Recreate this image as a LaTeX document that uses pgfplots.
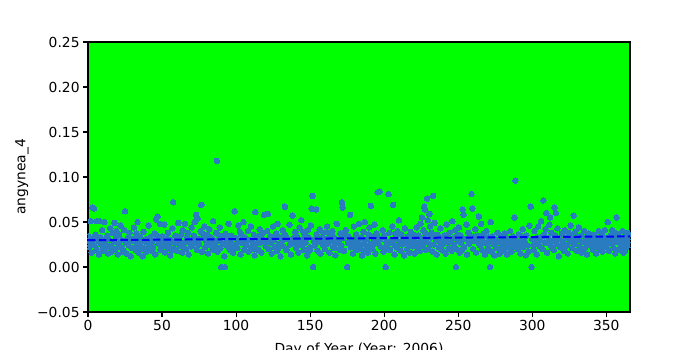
\documentclass[border=0pt]{standalone}
\usepackage{pgfplots}
\pgfplotsset{compat=1.18}
\usepackage{fontspec}
\setmainfont{DejaVu Sans}
\definecolor{ptc}{RGB}{42,124,192}
\definecolor{bggreen}{RGB}{0,255,0}
\begin{document}
\begin{tikzpicture}[font=\fontsize{13.9}{16.7}\selectfont]
\begin{axis}[
  scale only axis, width=542bp, height=270bp,
  xmin=0, xmax=366, ymin=-0.05, ymax=0.25,
  clip marker paths=true,
  axis background/.style={fill=bggreen},
  axis line style={line width=1.1bp},
  tick style={line width=1.1bp, black},
  major tick length=4.9bp, tick align=outside,
  xtick pos=left, ytick pos=left,
  xtick={0,50,100,150,200,250,300,350},
  ytick={-0.05,0,0.05,0.1,0.15,0.2,0.25},
  yticklabels={−0.05,0.00,0.05,0.10,0.15,0.20,0.25},
  /pgf/number format/assume math mode=true,
  every axis x label/.style={at={(axis description cs:0.5,-0.1519)}, anchor=base},
  every axis y label/.style={at={(axis description cs:-0.1218,0.5)}, anchor=center, rotate=90},
  xlabel={Day of Year (Year: 2006)},
  ylabel={angynea\_4},
]
\addplot[only marks, mark=*, mark size=2.8bp, mark options={draw=ptc, fill=ptc, line width=0pt}] coordinates {
(0.5,0.034)(1,0.022)(1.5,0.028)(2,0.051)(2.5,0.016)(3,0.066)(3.5,0.031)(4,0.065)(4.5,0.024)(5,0.036)(5.5,0.019)(6,0.051)(7,0.029)(7.5,0.014)(8,0.051)(8.5,0.033)(9,0.025)(9.5,0.041)(10,0.018)(10.5,0.030)
(11,0.050)(11.5,0.027)(12,0.021)(13,0.035)(13.5,0.015)(14,0.031)(15,0.043)(15.5,0.023)(16,0.017)(17,0.038)(17.5,0.028)(18,0.049)(18.5,0.020)(19,0.033)(20,0.014)(20.5,0.026)
(21,0.036)(22,0.046)(22.5,0.022)(23,0.030)(24,0.018)(24.5,0.041)(25,0.062)(25.5,0.027)(26,0.015)(27,0.033)(27.5,0.024)(28,0.038)(29,0.012)(29.5,0.029)(30,0.021)
(31,0.044)(31.5,0.031)(32,0.019)(33,0.026)(33.5,0.050)(34,0.016)(35,0.034)(35.5,0.023)(36,0.028)(37,0.012)(37.5,0.039)(38,0.021)(39,0.031)(39.5,0.017)(40,0.027)
(41,0.046)(41.5,0.024)(42,0.033)(43,0.018)(43.5,0.029)(44,0.022)(45,0.037)(45.5,0.014)(46,0.053)(47,0.056)(47.5,0.026)(48,0.031)(48.5,0.048)(49,0.019)(50,0.034)(50.5,0.024)
(51,0.028)(51.5,0.047)(52,0.016)(53,0.032)(53.5,0.022)(54,0.038)(55,0.026)(55.5,0.013)(56,0.030)(57,0.043)(57.5,0.072)(58,0.021)(59,0.035)(59.5,0.027)(60,0.018)
(61,0.049)(61.5,0.029)(62,0.024)(63,0.036)(63.5,0.016)(64,0.041)(65,0.027)(65.5,0.048)(66,0.020)(67,0.033)(67.5,0.038)(68,0.014)(69,0.030)(69.5,0.023)(70,0.044)
(71,0.026)(71.5,0.035)(72,0.050)(73,0.058)(73.5,0.019)(74,0.054)(74.5,0.031)(75,0.025)(76,0.040)(76.5,0.069)(77,0.017)(78,0.032)(78.5,0.045)(79,0.022)(80,0.028)(80.5,0.036)
(81,0.015)(82,0.042)(82.5,0.027)(83,0.033)(84,0.020)(84.5,0.051)(85,0.030)(86,0.024)(86.5,0.038)(87,0.118)(87.5,0.017)(88,0.029)(89,0.044)(89.5,0.021)(90,0.000)(90.5,0.034)
(91,0.026)(92,0.012)(92.5,0.000)(93,0.037)(94,0.023)(94.5,0.031)(95,0.048)(96,0.019)(96.5,0.028)(97,0.035)(98,0.016)(99,0.062)(99.5,0.025)(100,0.032)
(101,0.021)(101.5,0.046)(102,0.029)(103,0.014)(103.5,0.036)(104,0.027)(105,0.050)(105.5,0.019)(106,0.033)(107,0.024)(108,0.040)(108.5,0.017)(109,0.030)(110,0.045)(110.5,0.022)
(111,0.028)(112,0.036)(112.5,0.013)(113,0.061)(114,0.026)(114.5,0.033)(115,0.019)(116,0.042)(116.5,0.027)(117,0.016)(118,0.031)(118.5,0.038)(119,0.058)(120,0.023)(120.5,0.029)
(121,0.040)(121.5,0.059)(122,0.020)(123,0.034)(123.5,0.027)(124,0.015)(125,0.045)(125.5,0.030)(126,0.022)(127,0.037)(127.5,0.018)(128,0.048)(129,0.026)(129.5,0.033)(130,0.012)
(131,0.029)(131.5,0.041)(132,0.023)(133,0.067)(133.5,0.035)(134,0.019)(135,0.031)(136,0.047)(136.5,0.025)(137,0.014)(138,0.057)(138.5,0.032)(139,0.027)(140,0.039)(140.5,0.021)
(141,0.034)(142,0.016)(142.5,0.029)(143,0.044)(144,0.052)(144.5,0.024)(145,0.031)(146,0.019)(146.5,0.037)(147,0.027)(148,0.013)(148.5,0.041)(149,0.033)(150,0.022)(150.5,0.046)
(151,0.065)(151.5,0.079)(152,0.000)(152.5,0.030)(153,0.024)(154,0.064)(154.5,0.036)(155,0.018)(156,0.028)(156.5,0.042)(157,0.015)(158,0.033)(158.5,0.025)(159,0.038)(160,0.020)
(161,0.031)(161.5,0.045)(162,0.026)(163,0.016)(163.5,0.035)(164,0.029)(165,0.040)(165.5,0.022)(166,0.033)(167,0.013)(167.5,0.027)(168,0.048)(169,0.030)(170,0.019)(170.5,0.037)
(171,0.024)(171.5,0.072)(172,0.066)(172.5,0.032)(173,0.018)(174,0.041)(175,0.000)(175.5,0.027)(176,0.034)(177,0.058)(177.5,0.022)(178,0.030)(179,0.015)(179.5,0.045)(180,0.026)
(181,0.036)(181.5,0.019)(182,0.029)(183,0.048)(184,0.024)(184.5,0.033)(185,0.013)(186,0.039)(186.5,0.027)(187,0.050)(188,0.021)(188.5,0.031)(189,0.016)(190,0.044)(190.5,0.025)
(191,0.068)(191.5,0.034)(192,0.020)(193,0.029)(193.5,0.047)(194,0.015)(195,0.037)(195.5,0.083)(196,0.026)(197,0.084)(197.5,0.031)(198,0.022)(199,0.041)(199.5,0.017)(200,0.035)
(201,0.000)(201.5,0.028)(202,0.024)(203,0.081)(203.5,0.038)(204,0.019)(205,0.030)(205.5,0.045)(206,0.069)(206.5,0.026)(207,0.014)(208,0.033)(208.5,0.022)(209,0.040)(210,0.052)(210.5,0.028)
(211,0.018)(211.5,0.036)(212,0.025)(213,0.031)(213.5,0.013)(214,0.043)(215,0.027)(215.5,0.020)(216,0.034)(217,0.016)(217.5,0.029)(218,0.039)(219,0.023)(220,0.032)(220.5,0.015)
(221,0.027)(222,0.044)(222.5,0.021)(223,0.035)(224,0.018)(224.5,0.048)(225,0.030)(225.5,0.055)(226,0.024)(226.5,0.041)(227,0.067)(227.5,0.064)(228,0.037)(228.5,0.028)(229,0.076)(229.5,0.052)(230,0.020)(230.5,0.059)(231,0.045)(231.5,0.033)
(232,0.038)(232.5,0.017)(233,0.079)(233.5,0.025)(234,0.049)(235,0.030)(235.5,0.014)(236,0.036)(237,0.022)(237.5,0.028)(238,0.043)(239,0.019)(239.5,0.033)(240,0.026)
(241,0.035)(241.5,0.015)(242,0.047)(243,0.028)(243.5,0.021)(244,0.038)(245,0.030)(245.5,0.018)(246,0.051)(247,0.025)(247.5,0.033)(248,0.041)(248.5,0.000)(249,0.020)(250,0.029)(250.5,0.044)
(251,0.016)(251.5,0.035)(252,0.027)(253,0.064)(253.5,0.058)(254,0.022)(255,0.031)(255.5,0.047)(256,0.014)(257,0.038)(257.5,0.026)(258,0.033)(259,0.081)(259.5,0.065)(260,0.020)
(261,0.029)(261.5,0.042)(262,0.016)(263,0.035)(264,0.056)(264.5,0.024)(265,0.031)(265.5,0.048)(266,0.019)(267,0.037)(267.5,0.027)(268,0.014)(269,0.040)(270,0.022)(270.5,0.033)
(271,0.028)(271.5,0.000)(272,0.050)(272.5,0.017)(273,0.034)(274,0.025)(274.5,0.013)(275,0.031)(276,0.021)(276.5,0.038)(277,0.028)(278,0.015)(279,0.034)(279.5,0.023)(280,0.029)
(281,0.018)(281.5,0.037)(282,0.026)(283,0.014)(283.5,0.031)(284,0.022)(285,0.040)(285.5,0.028)(286,0.017)(287,0.034)(287.5,0.025)(288,0.055)(288.5,0.096)(289,0.030)(290,0.020)
(291,0.036)(291.5,0.026)(292,0.015)(293,0.031)(293.5,0.042)(294,0.022)(295,0.028)(295.5,0.013)(296,0.035)(297,0.024)(298,0.046)(299,0.067)(299.5,0.000)(300,0.031)
(301,0.019)(301.5,0.040)(302,0.027)(303,0.014)(303.5,0.033)(304,0.045)(305,0.023)(305.5,0.030)(306,0.051)(307,0.020)(307.5,0.074)(308,0.036)(308.5,0.027)(309,0.042)(309.5,0.060)(310,0.016)
(311,0.032)(311.5,0.047)(312,0.055)(312.5,0.024)(313,0.038)(314,0.029)(314.5,0.019)(315,0.066)(315.5,0.035)(316,0.060)(316.5,0.026)(317,0.043)(318,0.012)(318.5,0.031)(319,0.022)(320,0.037)
(321,0.027)(321.5,0.018)(322,0.041)(323,0.033)(323.5,0.024)(324,0.015)(325,0.036)(325.5,0.029)(326,0.046)(327,0.021)(327.5,0.032)(328,0.057)(328.5,0.026)(329,0.039)(330,0.018)
(331,0.030)(331.5,0.044)(332,0.023)(333,0.035)(333.5,0.016)(334,0.028)(335,0.040)(335.5,0.021)(336,0.033)(337,0.014)(337.5,0.027)(338,0.037)(339,0.024)(340,0.031)
(341,0.019)(341.5,0.036)(342,0.028)(343,0.015)(343.5,0.033)(344,0.025)(345,0.040)(345.5,0.020)(346,0.030)(347,0.036)(347.5,0.017)(348,0.027)(349,0.041)(350,0.022)
(351,0.050)(351.5,0.030)(352,0.018)(353,0.035)(353.5,0.026)(354,0.041)(355,0.021)(355.5,0.032)(356,0.015)(357,0.055)(357.5,0.028)(358,0.036)(359,0.019)(359.5,0.033)(360,0.024)(361,0.040)(361.5,0.016)(362,0.030)(363,0.035)(363.5,0.022)(364,0.027)(365,0.033)
(2.2,0.027)(6.4,0.033)(9.8,0.020)(14.6,0.024)(19.3,0.040)(23.7,0.017)(28.4,0.032)(32.6,0.037)(36.7,0.020)(42.4,0.027)(46.6,0.035)(52.6,0.029)(56.4,0.018)(60.6,0.031)
(64.4,0.022)(68.6,0.027)(72.6,0.030)(77.4,0.037)(81.6,0.025)(85.4,0.019)(88.6,0.035)(93.6,0.028)(97.6,0.022)(102.6,0.039)(106.6,0.026)(111.6,0.020)(115.6,0.035)(119.6,0.027)
(124.6,0.033)(128.6,0.021)(132.6,0.036)(137.6,0.029)(141.6,0.025)(145.6,0.039)(149.6,0.018)(153.6,0.031)(157.6,0.027)(162.6,0.038)(166.6,0.021)(169.6,0.026)(173.6,0.035)(178.6,0.024)
(182.6,0.021)(186.0,0.018)(189.6,0.036)(192.6,0.025)(196.6,0.032)(200.6,0.020)(204.6,0.027)(207.6,0.037)(212.6,0.030)(216.6,0.024)(219.6,0.036)(223.6,0.026)(226.0,0.031)(228.2,0.019)
(231.2,0.025)(234.6,0.032)(238.6,0.024)(242.6,0.031)(246.6,0.020)(249.6,0.036)(252.6,0.019)(256.6,0.030)(260.6,0.034)(263.6,0.027)(266.6,0.033)(269.6,0.018)(273.6,0.029)(277.6,0.020)
(280.6,0.033)(284.6,0.030)(288.0,0.023)(290.6,0.027)(294.6,0.034)(297.6,0.017)(300.6,0.024)(304.6,0.029)(306.6,0.034)(310.6,0.027)(313.6,0.021)(317.6,0.032)(320.6,0.025)(324.6,0.038)
(327.0,0.028)(330.6,0.034)(334.6,0.019)(336.6,0.027)(339.6,0.036)(342.6,0.022)(346.6,0.025)(349.6,0.032)(352.6,0.027)(356.6,0.037)(360.6,0.031)(362.6,0.018)(364.6,0.038)(365.6,0.025)
};
\addplot[draw={rgb,255:red,0;green,0;blue,255}, line width=2bp, dash pattern=on 7.5bp off 3.3bp] coordinates {(0,0.0298) (366,0.0340)};
\end{axis}
\pgfresetboundingbox
\path[use as bounding box] (-88bp,-38bp) rectangle (612bp,312bp);
\end{tikzpicture}
\end{document}
